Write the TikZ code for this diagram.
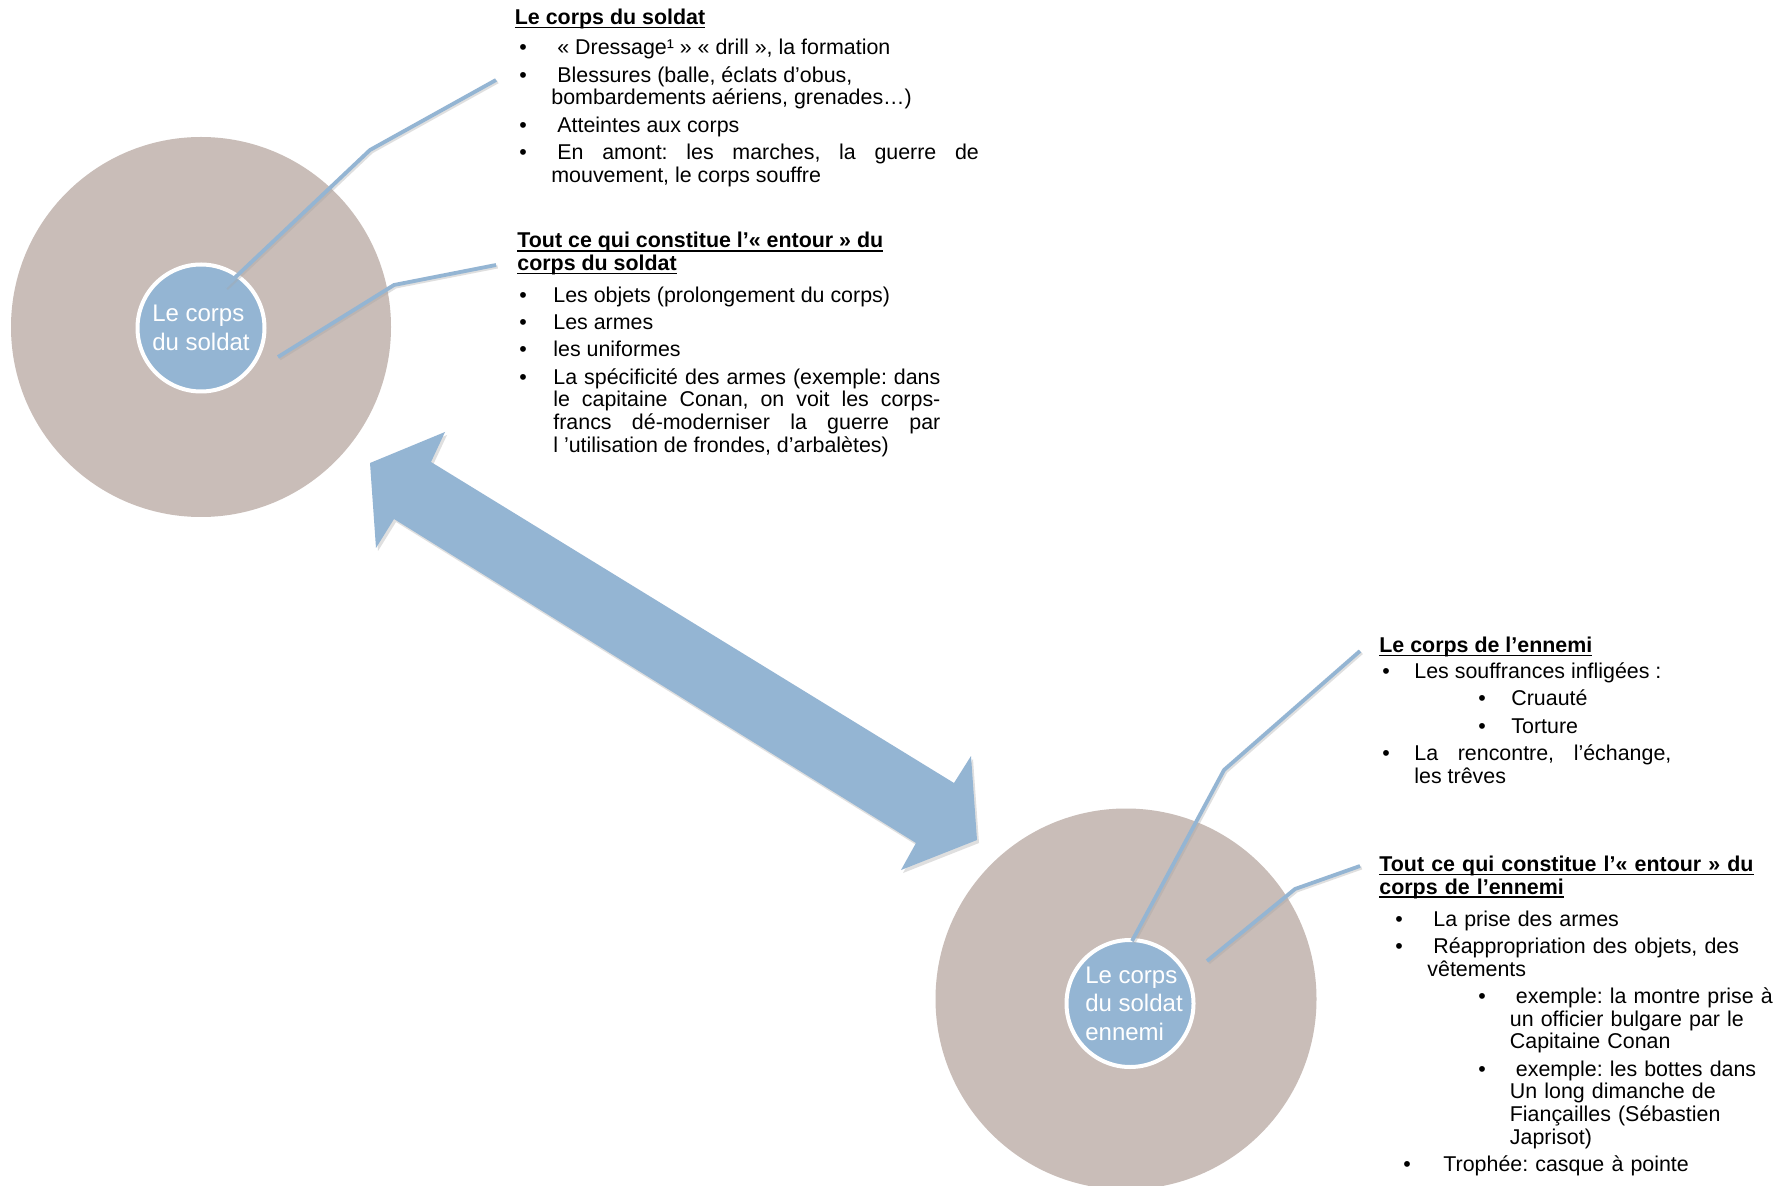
\documentclass[tikz,border=0pt]{standalone}
\usepackage{fontspec}
\setmainfont{Liberation Sans}
\usetikzlibrary{shadows}
\definecolor{Taupe}{HTML}{C9BDB8}
\definecolor{Acier}{HTML}{94B5D3}
\setlength{\parskip}{0pt}
\frenchspacing
% soulignement fin, sans profondeur en plus
\newcommand{\souligne}[1]{\leavevmode\setbox0\hbox{#1}\rlap{\rule[-1.8pt]{\wd0}{0.7pt}}\box0}
% espace de tete fixe
\newcommand{\tete}{\hspace*{0.28em}}
% liste a puces : [topsep]{leftmargin}{labelsep}
\newenvironment{puces}[3][4pt]{%
  \begin{list}{\textbullet}{\setlength{\leftmargin}{#2}\setlength{\labelsep}{#3}%
    \setlength{\labelwidth}{0pt}\setlength{\itemindent}{0pt}%
    \setlength{\itemsep}{2.2pt}\setlength{\parsep}{0pt}%
    \setlength{\topsep}{#1}\setlength{\partopsep}{0pt}%
    \renewcommand{\makelabel}[1]{\rlap{##1}}}}%
  {\end{list}}

\begin{document}
\begin{tikzpicture}[x=0.5pt, y=-0.5pt,
  disque/.style={fill=Taupe},
  noyau/.style={circle, fill=Acier, draw=white, line width=2pt, minimum size=63.5pt, inner sep=0pt},
  etiq/.style={text=white, align=left, inner sep=0pt, font=\fontsize{12pt}{14.2pt}\selectfont},
  bloc/.style={anchor=north west, inner sep=0pt, font=\fontsize{10.7pt}{11.4pt}\selectfont},
  lien/.style={draw=Acier, line width=1.9pt,
               preaction={draw=black!35, opacity=.35, line width=1.9pt,
                          transform canvas={shift={(0.8pt,-0.8pt)}}}},
  fleche/.style={fill=Acier, drop shadow={opacity=.25, shadow xshift=1pt, shadow yshift=-1.5pt}}]
  \fill[white] (0,0) rectangle (1781,1186);
  \useasboundingbox (0,0) rectangle (1781,1186);

  % les deux cercles
  \fill[disque] (201,327) circle (190);
  \fill[disque] (1126,999) circle (190.5);
  \node[noyau] (soldat) at (201,328) {};
  \node[noyau] (ennemi) at (1130,1003.5) {};

  % fleche double
  \fill[fleche] (370,463) -- (445,432) -- (431,462) -- (954,783) -- (971,756)
    -- (977,840) -- (901,870) -- (916,843) -- (394,519) -- (376,548) -- cycle;

  % textes
  \node[bloc, text width=232pt, align=justify] (b1) at (514.5,8.5) {%
    \textbf{\souligne{Le corps du soldat}}
    \begin{puces}[3.9pt]{18.25pt}{16pt}
      \item \tete«~Dressage¹~» «~drill~», la formation
      \item \tete Blessures (balle, éclats d’obus,\newline bombardements aériens, grenades…)
      \item \tete Atteintes aux corps
      \item \tete En amont: les marches, la guerre de\linebreak mouvement, le corps souffre
    \end{puces}};
  \node[bloc, text width=211.5pt, align=justify] (b2) at (517,232) {%
    \textbf{\souligne{Tout ce qui constitue l’«~entour~» du}}\\\textbf{\souligne{corps du soldat}}
    \begin{puces}[4.5pt]{18pt}{17pt}
      \item Les objets (prolongement du corps)
      \item Les armes
      \item les uniformes
      \item La spécificité des armes (exemple: dans\linebreak le capitaine Conan, on voit les corps-\linebreak francs dé-moderniser la guerre par\linebreak l ’utilisation de frondes, d’arbalètes)
    \end{puces}};
  \node[bloc, text width=146pt, align=justify] (b3) at (1379,636.5) {%
    \textbf{\souligne{Le corps de l’ennemi}}
    \begin{puces}[1.7pt]{17.5pt}{16pt}
      \item Les souffrances infligées :
        \begin{puces}[2.2pt]{48.5pt}{16.5pt}
          \item Cruauté
          \item Torture
        \end{puces}
      \item La rencontre, l’échange,\linebreak les trêves
    \end{puces}};
  \node[bloc, text width=210pt, align=left] (b4) at (1379,855.5) {%
    \textbf{\souligne{Tout ce qui constitue l’«~entour~» du}}\\\textbf{\souligne{corps de l’ennemi}}
    \begin{puces}[4.5pt]{24pt}{16pt}
      \item \tete La prise des armes
      \item \tete Réappropriation des objets, des\newline vêtements
        \begin{puces}[2.2pt]{41.25pt}{15.75pt}
          \item \tete exemple: la montre prise à\newline un officier bulgare par le\newline Capitaine Conan
          \item \tete exemple: les bottes dans\newline Un long dimanche de\newline Fiançailles (Sébastien\newline Japrisot)
        \end{puces}
      \item[\hspace*{4pt}\textbullet] \hspace*{5pt}\tete Trophée: casque à pointe
    \end{puces}};

  % liens
  \coordinate (s1) at (225,287);  \coordinate (k1) at (370,150);  \coordinate (e1) at (496,80);
  \coordinate (s2) at (278,357);  \coordinate (k2) at (394,285);  \coordinate (e2) at (496,265);
  \coordinate (s3) at (1132,941); \coordinate (k3) at (1224,770); \coordinate (e3) at (1360,651);
  \coordinate (s4) at (1207,961); \coordinate (k4) at (1295,889); \coordinate (e4) at (1360,866);
  \draw[lien] (s1) -- (k1) -- (e1);
  \draw[lien] (s2) -- (k2) -- (e2);
  \draw[lien] (s3) -- (k3) -- (e3);
  \draw[lien] (s4) -- (k4) -- (e4);

  \node[etiq] (soldat-txt) at (soldat) {Le corps\\du soldat};
  \node[etiq] (ennemi-txt) at ([xshift=2pt]ennemi) {Le corps\\du soldat\\ennemi};
\end{tikzpicture}
\end{document}
